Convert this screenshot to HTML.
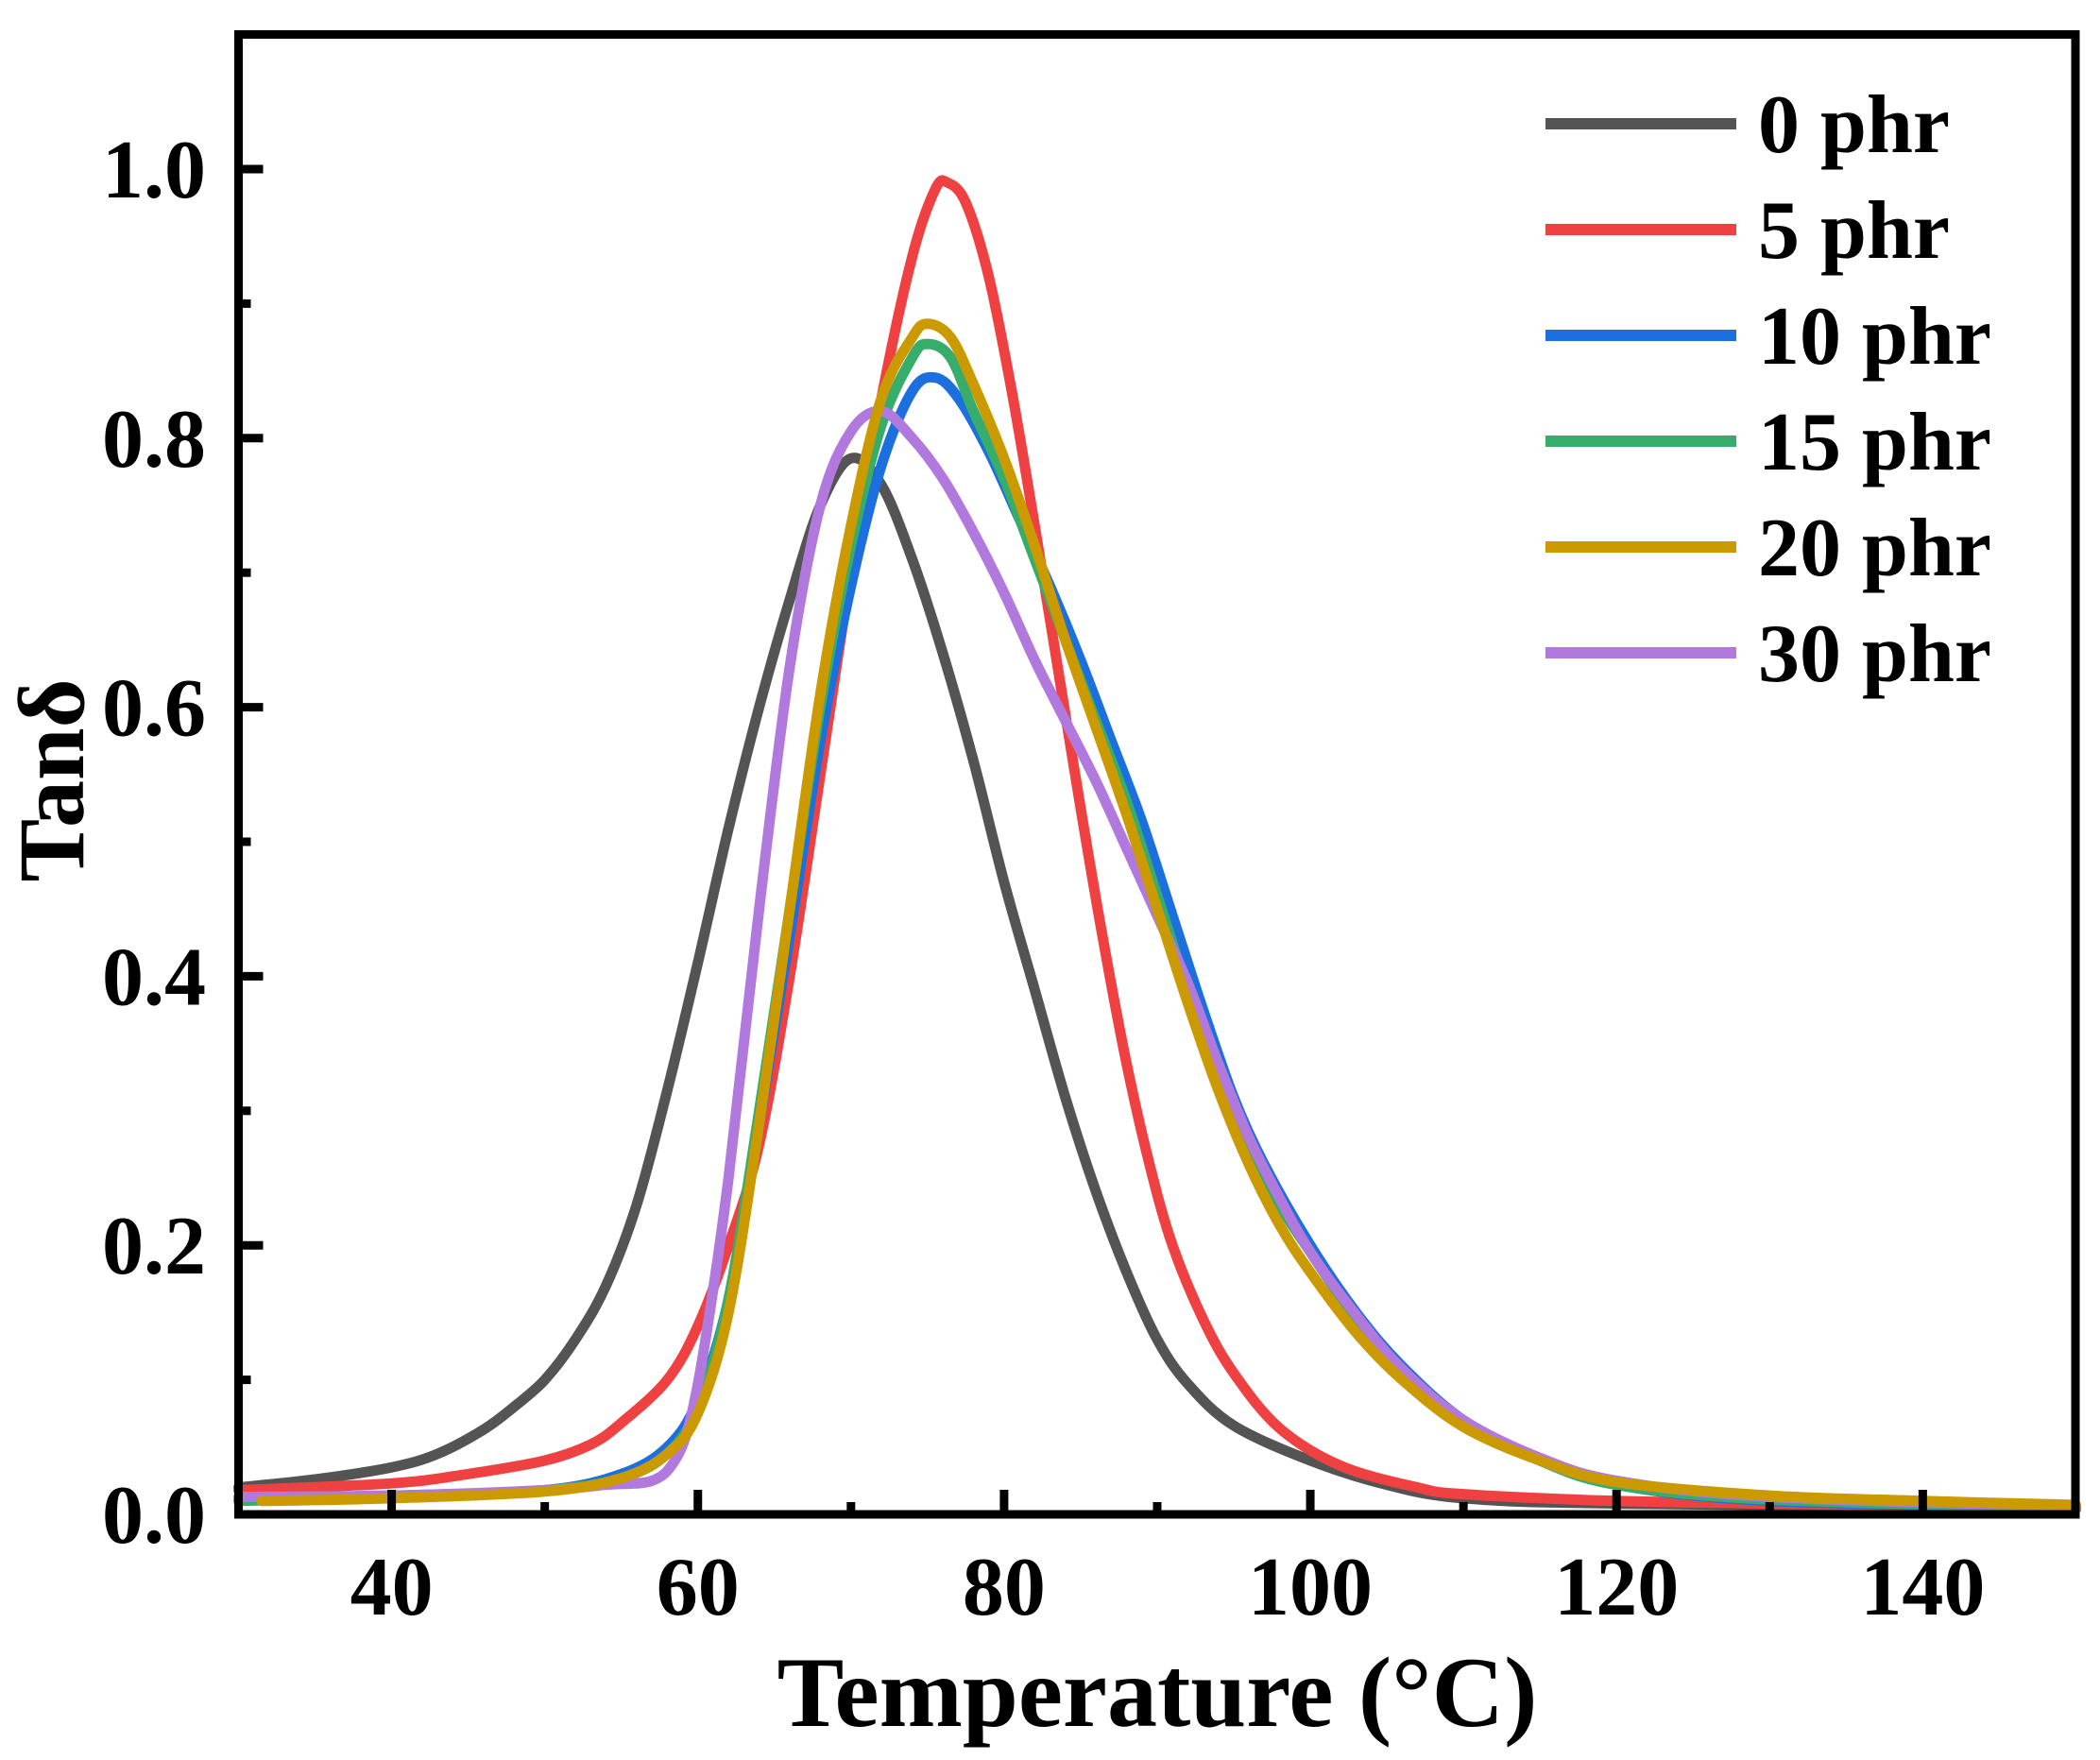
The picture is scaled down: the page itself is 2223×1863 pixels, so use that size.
<!DOCTYPE html>
<html><head><meta charset="utf-8"><style>
html,body{margin:0;padding:0;background:#fff;}
svg{display:block;}
text{font-family:"Liberation Serif","Times New Roman",serif;font-weight:bold;fill:#000;}
</style></head><body>
<svg id="s" width="2223" height="1863" viewBox="0 0 2223 1863" xmlns="http://www.w3.org/2000/svg">
<g id="curves" fill="none" stroke-width="11" stroke-linejoin="round" stroke-linecap="round"></g>
<rect x="252.5" y="36.5" width="1944.5" height="1566.5" fill="none" stroke="#000" stroke-width="9"/>
<g id="ticks" stroke="#000" stroke-width="9"></g>
<g font-size="88" text-anchor="middle" id="xl"></g>
<g font-size="88" text-anchor="end" id="yl"></g>
<text x="1225" y="1827" font-size="106" text-anchor="middle">Temperature (°C)</text>
<text transform="translate(88,826) rotate(-90)" font-size="100" text-anchor="middle">Tanδ</text>
<g id="leg" font-size="88"></g>
</svg>
<script>
var NS="http://www.w3.org/2000/svg";
function X(t){return 252.5+(t-30)*16.208;}
function Y(v){return 1603-v*1424;}
function el(p,n,a,txt){var e=document.createElementNS(NS,n);for(var k in a)e.setAttribute(k,a[k]);if(txt)e.textContent=txt;p.appendChild(e);return e;}
var tk=document.getElementById('ticks');
for(var t=30;t<=150;t+=10){var maj=(t%20==0);var x=X(t);if(t==30||t==150)continue;
 el(tk,'line',{x1:x,y1:1603,x2:x,y2:1603-(maj?26:13)});
 if(maj)el(document.getElementById('xl'),'text',{x:x,y:1709},String(t));}
for(var i=1;i<=10;i++){var v=i/10;var y=Y(v);var maj=(i%2==0);
 el(tk,'line',{x1:252.5,y1:y,x2:252.5+(maj?26:13),y2:y});}
for(var i=0;i<=10;i+=2){var v=i/10;el(document.getElementById('yl'),'text',{x:218,y:Y(v)+30},v.toFixed(1));}
var D={
gray:[[30,0.02],[35,0.026],[40,0.035],[43,0.045],[46,0.063],[48,0.08],[50,0.1],[52,0.13],[54,0.17],[56,0.23],[58,0.315],[60,0.41],[62,0.51],[64,0.6],[66,0.68],[68,0.75],[70,0.785],[72,0.765],[74,0.71],[76,0.64],[78,0.56],[80,0.47],[82,0.39],[84,0.31],[86,0.24],[88,0.18],[90,0.13],[92,0.097],[95,0.066],[100,0.04],[105,0.022],[110,0.012],[120,0.008],[150,0.005]],
red:[[30,0.018],[40,0.023],[45,0.03],[50,0.04],[53,0.052],[55,0.068],[58,0.1],[60,0.14],[62,0.2],[64,0.275],[66,0.4],[68,0.55],[70,0.7],[72,0.83],[74,0.935],[75.5,0.985],[76.3,0.99],[77.5,0.975],[79,0.92],[80.5,0.835],[82,0.735],[83.5,0.63],[85,0.525],[86.5,0.425],[88,0.335],[89.5,0.26],[91,0.2],[93,0.145],[95,0.105],[98,0.064],[102,0.036],[107,0.02],[110,0.015],[120,0.01],[130,0.008],[150,0.004]],
blue:[[30,0.012],[40,0.014],[50,0.018],[55,0.03],[58,0.05],[60,0.085],[62,0.16],[64,0.29],[66,0.43],[68,0.575],[70,0.69],[72,0.78],[74,0.835],[75.5,0.845],[77,0.83],[79,0.79],[81,0.74],[83,0.69],[85,0.635],[87,0.575],[89,0.515],[91,0.445],[93,0.375],[95,0.31],[97,0.26],[100,0.2],[103,0.15],[106,0.11],[110,0.07],[115,0.04],[120,0.022],[130,0.01],[150,0.005]],
green:[[30,0.01],[40,0.013],[50,0.018],[55,0.027],[58,0.045],[60,0.08],[62,0.16],[64,0.3],[66,0.45],[68,0.6],[70,0.72],[72,0.81],[74,0.86],[75,0.87],[76.5,0.86],[78,0.82],[80,0.77],[82,0.71],[84,0.65],[86,0.59],[88,0.53],[90,0.46],[92,0.39],[94,0.33],[96,0.275],[98,0.23],[100,0.195],[103,0.145],[106,0.105],[110,0.068],[115,0.04],[120,0.022],[130,0.011],[150,0.005]],
purple:[[30,0.013],[40,0.014],[50,0.018],[54,0.022],[57,0.025],[58.5,0.04],[59.5,0.07],[60.5,0.13],[62,0.25],[64,0.45],[66,0.63],[68,0.75],[70,0.805],[72,0.82],[74,0.8],[76,0.77],[78,0.73],[80,0.685],[82,0.635],[84,0.59],[86,0.545],[88,0.495],[90,0.445],[92,0.395],[94,0.335],[96,0.28],[98,0.235],[100,0.195],[103,0.148],[106,0.108],[110,0.07],[115,0.042],[120,0.025],[130,0.013],[150,0.006]],
orange:[[31.5,0.01],[40,0.012],[50,0.017],[55,0.027],[58,0.045],[60,0.075],[62,0.15],[64,0.29],[66,0.45],[68,0.61],[70,0.735],[72,0.83],[74,0.875],[75,0.885],[76.5,0.875],[78,0.84],[80,0.785],[82,0.72],[84,0.65],[86,0.585],[88,0.52],[90,0.45],[92,0.38],[94,0.315],[96,0.26],[98,0.215],[100,0.18],[103,0.135],[106,0.1],[110,0.065],[115,0.04],[120,0.024],[130,0.014],[140,0.01],[150,0.007]]
};
var C={gray:'#545454',red:'#f04142',blue:'#1b6fdf',green:'#37ad6b',purple:'#b178de',orange:'#cb9a00'};
function path(pts){var P=pts.map(function(p){return [X(p[0]),Y(p[1])];});var d='M'+P[0][0].toFixed(1)+','+P[0][1].toFixed(1);
 for(var i=0;i<P.length-1;i++){var p0=P[Math.max(0,i-1)],p1=P[i],p2=P[i+1],p3=P[Math.min(P.length-1,i+2)];
 var c1=[p1[0]+(p2[0]-p0[0])/6,p1[1]+(p2[1]-p0[1])/6],c2=[p2[0]-(p3[0]-p1[0])/6,p2[1]-(p3[1]-p1[1])/6];
 d+=' C'+c1[0].toFixed(1)+','+c1[1].toFixed(1)+' '+c2[0].toFixed(1)+','+c2[1].toFixed(1)+' '+p2[0].toFixed(1)+','+p2[1].toFixed(1);}
 return d;}
var g=document.getElementById('curves');
['gray','red','blue','green','purple','orange'].forEach(function(k){el(g,'path',{d:path(D[k]),stroke:C[k]});});
var lg=document.getElementById('leg');
var names=[['gray','0 phr'],['red','5 phr'],['blue','10 phr'],['green','15 phr'],['orange','20 phr'],['purple','30 phr']];
names.forEach(function(n,i){var y=131+i*112;
 el(lg,'line',{x1:1636,y1:y,x2:1838,y2:y,stroke:C[n[0]],'stroke-width':12});
 el(lg,'text',{x:1861,y:y+30},n[1]);});
</script>
</body></html>
